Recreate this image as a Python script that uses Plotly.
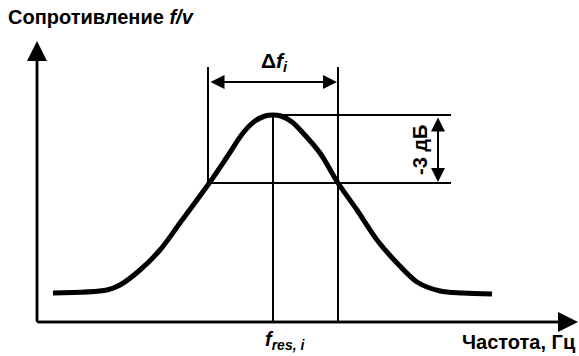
import plotly.graph_objects as go

curve_x = [53, 107, 120, 140, 160, 180, 210, 227, 243, 255, 265, 273,
           281, 292, 303, 320, 338, 357, 377, 397, 417, 440, 463, 492]
curve_y = [293, 290, 285, 270, 250, 223, 182, 157, 133, 121, 116, 115,
           116, 122, 133, 153, 183, 210, 240, 263, 282, 291, 293, 294]

f_low, f_res, f_high = 208, 273, 338
level_peak, level_3db = 115, 183
axis_x0, axis_y0 = 37, 322

title_text = "Сопротивление <i>f/v</i>"
xlabel_text = "Частота, Гц"
db_text = "-3 дБ"
df_text = "Δ<i>f<sub>i</sub></i>"
fres_text = "<i>f<sub>res, i</sub></i>"

FONT = "Liberation Sans, Arial, sans-serif"
fig = go.Figure()

def line(xs, ys, w):
    fig.add_trace(go.Scatter(x=xs, y=ys, mode="lines",
                             line=dict(color="black", width=w),
                             hoverinfo="skip", showlegend=False))

# guide lines
line([f_low, f_low], [67, level_3db], 2)
line([f_high, f_high], [67, axis_y0], 2)
line([f_res, f_res], [level_peak, axis_y0], 2)
line([f_res, 451], [level_peak, level_peak], 2)
line([f_low, 451], [level_3db, level_3db], 2)
# axes
line([axis_x0, axis_x0], [axis_y0, 52], 2.5)
line([axis_x0, 565], [axis_y0, axis_y0], 2.5)
# curve
fig.add_trace(go.Scatter(x=curve_x, y=curve_y, mode="lines",
                         line=dict(color="black", width=5, shape="spline", smoothing=0.9),
                         hoverinfo="skip", showlegend=False))

def arrow(x, y, ax, ay, size, width, side="end"):
    fig.add_annotation(x=x, y=y, ax=ax, ay=ay, xref="x", yref="y",
                       axref="x", ayref="y", text="", showarrow=True,
                       arrowhead=2, arrowsize=size, arrowwidth=width,
                       arrowcolor="black", arrowside=side, standoff=0, startstandoff=0)

arrow(axis_x0, 41, axis_x0, axis_y0, 1.6, 2.5)
arrow(578, axis_y0, axis_x0, axis_y0, 1.6, 2.5)
arrow(f_high - 1, 82, f_low + 1, 82, 1.4, 2, "end+start")
arrow(438, level_3db - 1, 438, level_peak + 1, 1.4, 2, "end+start")

def label(x, y, txt, anchor="center", angle=0, size=20):
    fig.add_annotation(x=x, y=y, xref="x", yref="y", text=txt, showarrow=False,
                       xanchor=anchor, yanchor="middle", textangle=angle,
                       font=dict(family=FONT, size=size, color="black"))

label(6, 17, "<b>" + title_text + "</b>", anchor="left")
label(578, 342, "<b>" + xlabel_text + "</b>", anchor="right")
label(420, 150, "<b>" + db_text + "</b>", angle=-90)
label(274, 62, "<b>" + df_text + "</b>", size=21)
label(263, 340, "<b>" + fres_text + "</b>", anchor="left", size=20)

fig.update_layout(width=579, height=356, margin=dict(l=0, r=0, t=0, b=0),
                  plot_bgcolor="white", paper_bgcolor="white",
                  xaxis=dict(range=[0, 579], visible=False, fixedrange=True),
                  yaxis=dict(range=[356, 0], visible=False, fixedrange=True))

fig.write_html("out.html", config={"displayModeBar": False},
               post_script="document.body.style.margin='0';")
